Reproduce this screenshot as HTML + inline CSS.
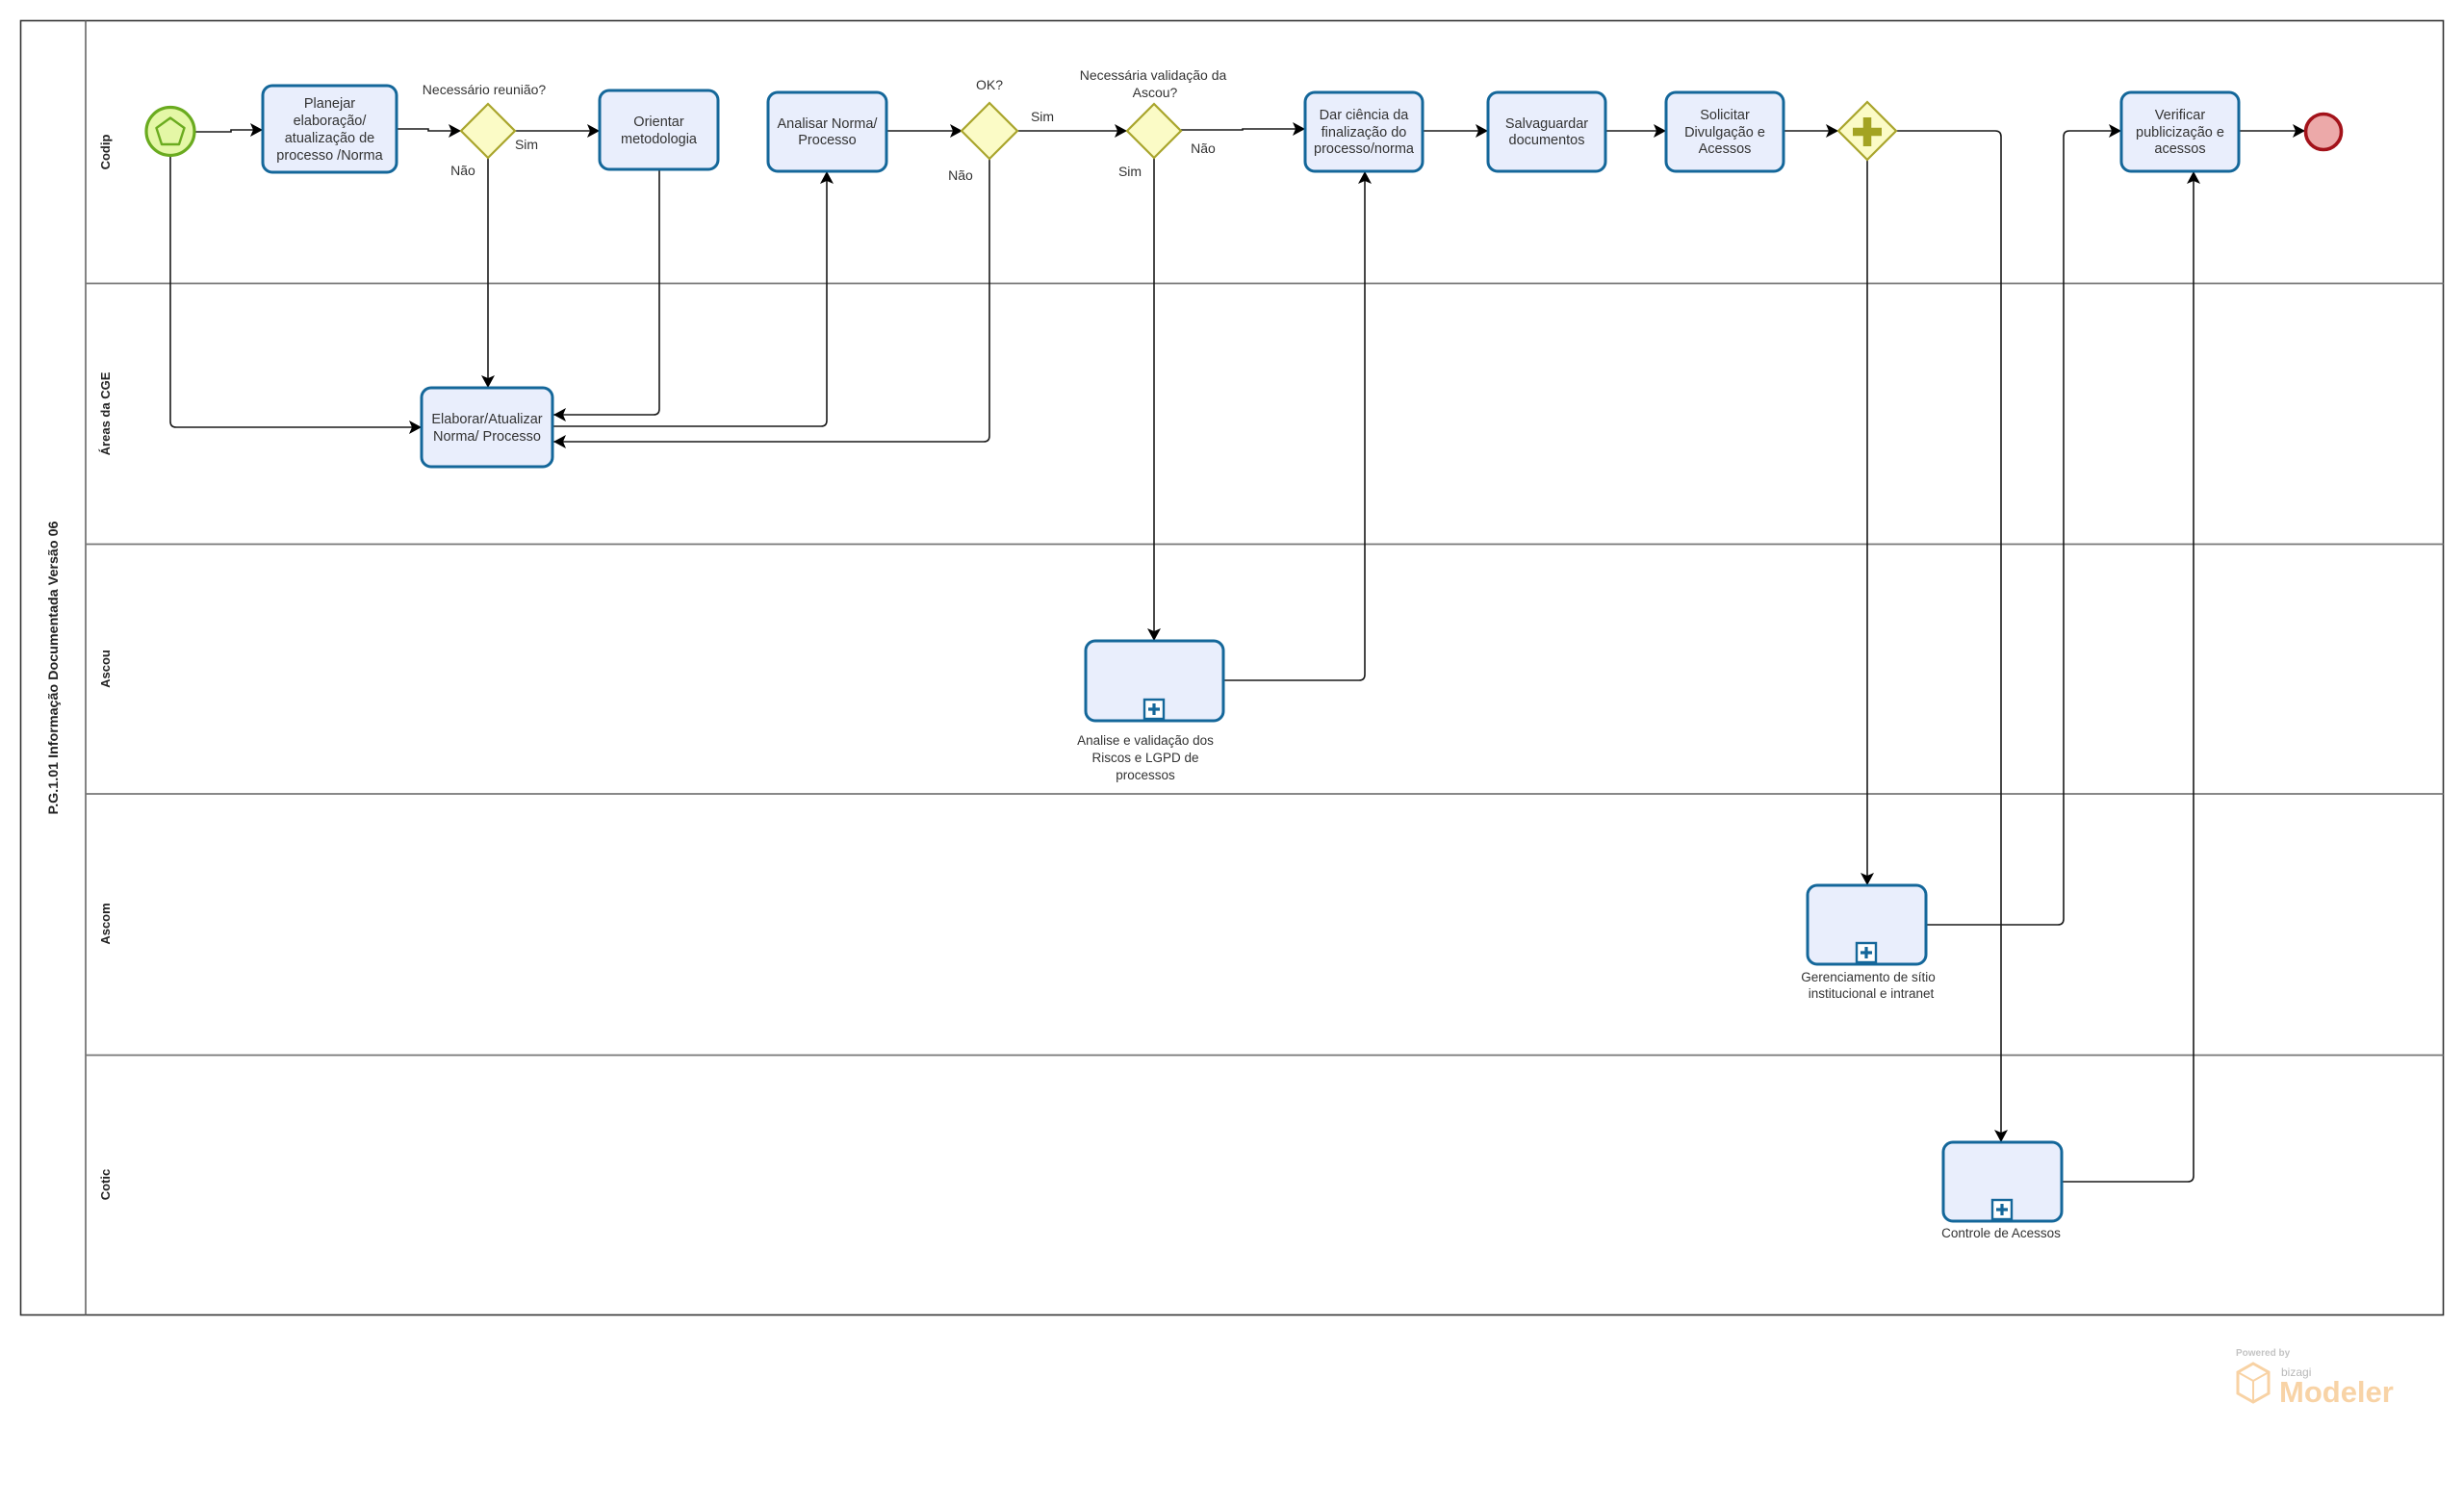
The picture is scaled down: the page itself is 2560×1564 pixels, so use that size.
<!DOCTYPE html>
<html>
<head>
<meta charset="utf-8">
<style>
  html,body{margin:0;padding:0;background:#fff;}
  svg{display:block;}
  text{font-family:"Liberation Sans",Arial,sans-serif;fill:#333;}
  .t{font-size:14.5px;text-anchor:middle;}
  .l{font-size:14px;text-anchor:middle;}
  .s{font-size:13.5px;text-anchor:middle;}
  .lane{font-size:13px;font-weight:bold;text-anchor:middle;fill:#222;}
  .task{fill:#e9eefc;stroke:#14679a;stroke-width:3;}
  .gw{fill:#fbfbc6;stroke:#a9a52c;stroke-width:2.2;}
  .c{fill:none;stroke:#1a1a1a;stroke-width:1.6;}
  .ca{fill:none;stroke:#1a1a1a;stroke-width:1.6;marker-end:url(#arr);}
</style>
</head>
<body>
<svg width="2560" height="1564" viewBox="0 0 2560 1564" xmlns="http://www.w3.org/2000/svg">
  <defs>
    <marker id="arr" markerUnits="userSpaceOnUse" markerWidth="16" markerHeight="16" viewBox="0 0 16 16" refX="14" refY="8" orient="auto">
      <path d="M1,1 L14,8 L1,15 L4,8 Z" fill="#000"/>
    </marker>
  </defs>

  <!-- Pool -->
  <rect x="21.5" y="21.5" width="2517" height="1345" fill="#fff" stroke="#333" stroke-width="1.6"/>
  <line x1="89" y1="21.5" x2="89" y2="1366.5" stroke="#666" stroke-width="1.6"/>
  <line x1="89" y1="294.5" x2="2538.5" y2="294.5" stroke="#777" stroke-width="1.8"/>
  <line x1="89" y1="565.5" x2="2538.5" y2="565.5" stroke="#777" stroke-width="1.8"/>
  <line x1="89" y1="825" x2="2538.5" y2="825" stroke="#777" stroke-width="1.8"/>
  <line x1="89" y1="1096.5" x2="2538.5" y2="1096.5" stroke="#777" stroke-width="1.8"/>

  <!-- Pool title & lane labels -->
  <text transform="translate(60,694) rotate(-90)" style="font-size:14px;font-weight:bold;text-anchor:middle;fill:#222" textLength="305" lengthAdjust="spacingAndGlyphs">P.G.1.01 Informação Documentada Versão 06</text>
  <text class="lane" transform="translate(114,158) rotate(-90)">Codip</text>
  <text class="lane" transform="translate(114,430) rotate(-90)">Áreas da CGE</text>
  <text class="lane" transform="translate(114,695) rotate(-90)">Ascou</text>
  <text class="lane" transform="translate(114,960) rotate(-90)">Ascom</text>
  <text class="lane" transform="translate(114,1231) rotate(-90)">Cotic</text>

  <!-- Connectors -->
  <path class="ca" d="M203,137 H240 V135 H273"/>
  <path class="ca" d="M412,134 H445 V136 H479"/>
  <path class="ca" d="M535,136 H623"/>
  <path class="ca" d="M507,164 V403"/>
  <path class="ca" d="M685,176 V425 Q685,431 679,431 H575"/>
  <path class="ca" d="M177,162 V438 Q177,444 183,444 H438"/>
  <path class="ca" d="M574,443 H853 Q859,443 859,437 V178"/>
  <path class="ca" d="M1028,164 V453 Q1028,459 1022,459 H575"/>
  <path class="ca" d="M921,136 H1000"/>
  <path class="ca" d="M1057,136 H1171"/>
  <path class="ca" d="M1227,135 H1291 V134 H1356"/>
  <path class="ca" d="M1199,164 V666"/>
  <path class="ca" d="M1271,707 H1412 Q1418,707 1418,701 V178"/>
  <path class="ca" d="M1478,136 H1546"/>
  <path class="ca" d="M1668,136 H1731"/>
  <path class="ca" d="M1853,136 H1910"/>
  <path class="ca" d="M1940,166 V920"/>
  <path class="ca" d="M1970,136 H2073 Q2079,136 2079,142 V1187"/>
  <path class="ca" d="M2001,961 H2138 Q2144,961 2144,955 V142 Q2144,136 2150,136 H2204"/>
  <path class="ca" d="M2142,1228 H2273 Q2279,1228 2279,1222 V178"/>
  <path class="ca" d="M2326,136 H2395"/>

  <!-- Start event -->
  <circle cx="177" cy="136.5" r="25" fill="#e4f7a6" stroke="#6aab1f" stroke-width="3.2"/>
  <polygon points="177,122.5 191.5,133 186,150 168,150 162.5,133" fill="none" stroke="#6aab1f" stroke-width="2.4" stroke-linejoin="round"/>

  <!-- End event -->
  <circle cx="2414" cy="137" r="18.5" fill="#eca9a9" stroke="#a3121a" stroke-width="3.6"/>

  <!-- Tasks -->
  <rect class="task" x="273" y="89" width="139" height="90" rx="10"/>
  <text class="t" x="342.5" y="112">Planejar</text>
  <text class="t" x="342.5" y="130">elaboração/</text>
  <text class="t" x="342.5" y="148">atualização de</text>
  <text class="t" x="342.5" y="166">processo /Norma</text>

  <rect class="task" x="623" y="94" width="123" height="82" rx="10"/>
  <text class="t" x="684.5" y="131">Orientar</text>
  <text class="t" x="684.5" y="149">metodologia</text>

  <rect class="task" x="798" y="96" width="123" height="82" rx="10"/>
  <text class="t" x="859.5" y="133">Analisar Norma/</text>
  <text class="t" x="859.5" y="150">Processo</text>

  <rect class="task" x="1356" y="96" width="122" height="82" rx="10"/>
  <text class="t" x="1417" y="124">Dar ciência da</text>
  <text class="t" x="1417" y="142">finalização do</text>
  <text class="t" x="1417" y="159">processo/norma</text>

  <rect class="task" x="1546" y="96" width="122" height="82" rx="10"/>
  <text class="t" x="1607" y="133">Salvaguardar</text>
  <text class="t" x="1607" y="150">documentos</text>

  <rect class="task" x="1731" y="96" width="122" height="82" rx="10"/>
  <text class="t" x="1792" y="124">Solicitar</text>
  <text class="t" x="1792" y="142">Divulgação e</text>
  <text class="t" x="1792" y="159">Acessos</text>

  <rect class="task" x="2204" y="96" width="122" height="82" rx="10"/>
  <text class="t" x="2265" y="124">Verificar</text>
  <text class="t" x="2265" y="142">publicização e</text>
  <text class="t" x="2265" y="159">acessos</text>

  <rect class="task" x="438" y="403" width="136" height="82" rx="10"/>
  <text class="t" x="506" y="440">Elaborar/Atualizar</text>
  <text class="t" x="506" y="458">Norma/ Processo</text>

  <!-- Subprocesses -->
  <rect class="task" x="1128" y="666" width="143" height="83" rx="10"/>
  <rect x="1189" y="727" width="20" height="20" fill="#fff" stroke="#14679a" stroke-width="2.4"/>
  <path d="M1199,731 V743 M1193,737 H1205" stroke="#14679a" stroke-width="3.2"/>
  <text class="s" x="1190" y="774">Analise e validação dos</text>
  <text class="s" x="1190" y="792">Riscos e LGPD de</text>
  <text class="s" x="1190" y="810">processos</text>

  <rect class="task" x="1878" y="920" width="123" height="82" rx="10"/>
  <rect x="1929" y="980" width="20" height="20" fill="#fff" stroke="#14679a" stroke-width="2.4"/>
  <path d="M1939,984 V996 M1933,990 H1945" stroke="#14679a" stroke-width="3.2"/>
  <text class="s" x="1941" y="1020">Gerenciamento de sítio</text>
  <text class="s" x="1944" y="1037">institucional e intranet</text>

  <rect class="task" x="2019" y="1187" width="123" height="82" rx="10"/>
  <rect x="2070" y="1247" width="20" height="20" fill="#fff" stroke="#14679a" stroke-width="2.4"/>
  <path d="M2080,1251 V1263 M2074,1257 H2086" stroke="#14679a" stroke-width="3.2"/>
  <text class="s" x="2079" y="1286">Controle de Acessos</text>

  <!-- Gateways -->
  <polygon class="gw" points="507,108 535,136 507,164 479,136"/>
  <polygon class="gw" points="1028,107 1057,136 1028,165 999,136"/>
  <polygon class="gw" points="1199,108 1227,136 1199,164 1171,136"/>
  <polygon class="gw" points="1940,106 1970,136 1940,166 1910,136"/>
  <path d="M1940,122 V152 M1925,137 H1955" stroke="#a3a322" stroke-width="8.5"/>

  <!-- Gateway labels -->
  <text class="l" x="503" y="98">Necessário reunião?</text>
  <text class="l" x="547" y="155">Sim</text>
  <text class="l" x="481" y="182">Não</text>
  <text class="l" x="1028" y="93">OK?</text>
  <text class="l" x="1083" y="126">Sim</text>
  <text class="l" x="998" y="187">Não</text>
  <text class="l" x="1198" y="83">Necessária validação da</text>
  <text class="l" x="1200" y="101">Ascou?</text>
  <text class="l" x="1250" y="159">Não</text>
  <text class="l" x="1174" y="183">Sim</text>

  <!-- Watermark -->
  <text x="2323" y="1409" style="font-size:10px;font-weight:bold;fill:#c4c4c4">Powered by</text>
  <polygon points="2341,1417 2357,1426 2357,1448 2341,1457 2325,1448 2325,1426" fill="none" stroke="#f8d2a4" stroke-width="3"/>
  <path d="M2325,1426 L2341,1435 L2341,1457 M2341,1435 L2357,1426" fill="none" stroke="#f8d2a4" stroke-width="2"/>
  <text x="2370" y="1430" style="font-size:12px;fill:#b8b8b8">bizagi</text>
  <text x="2368" y="1457" style="font-size:31px;font-weight:bold;fill:#f8d3a6">Modeler</text>
</svg>
</body>
</html>
